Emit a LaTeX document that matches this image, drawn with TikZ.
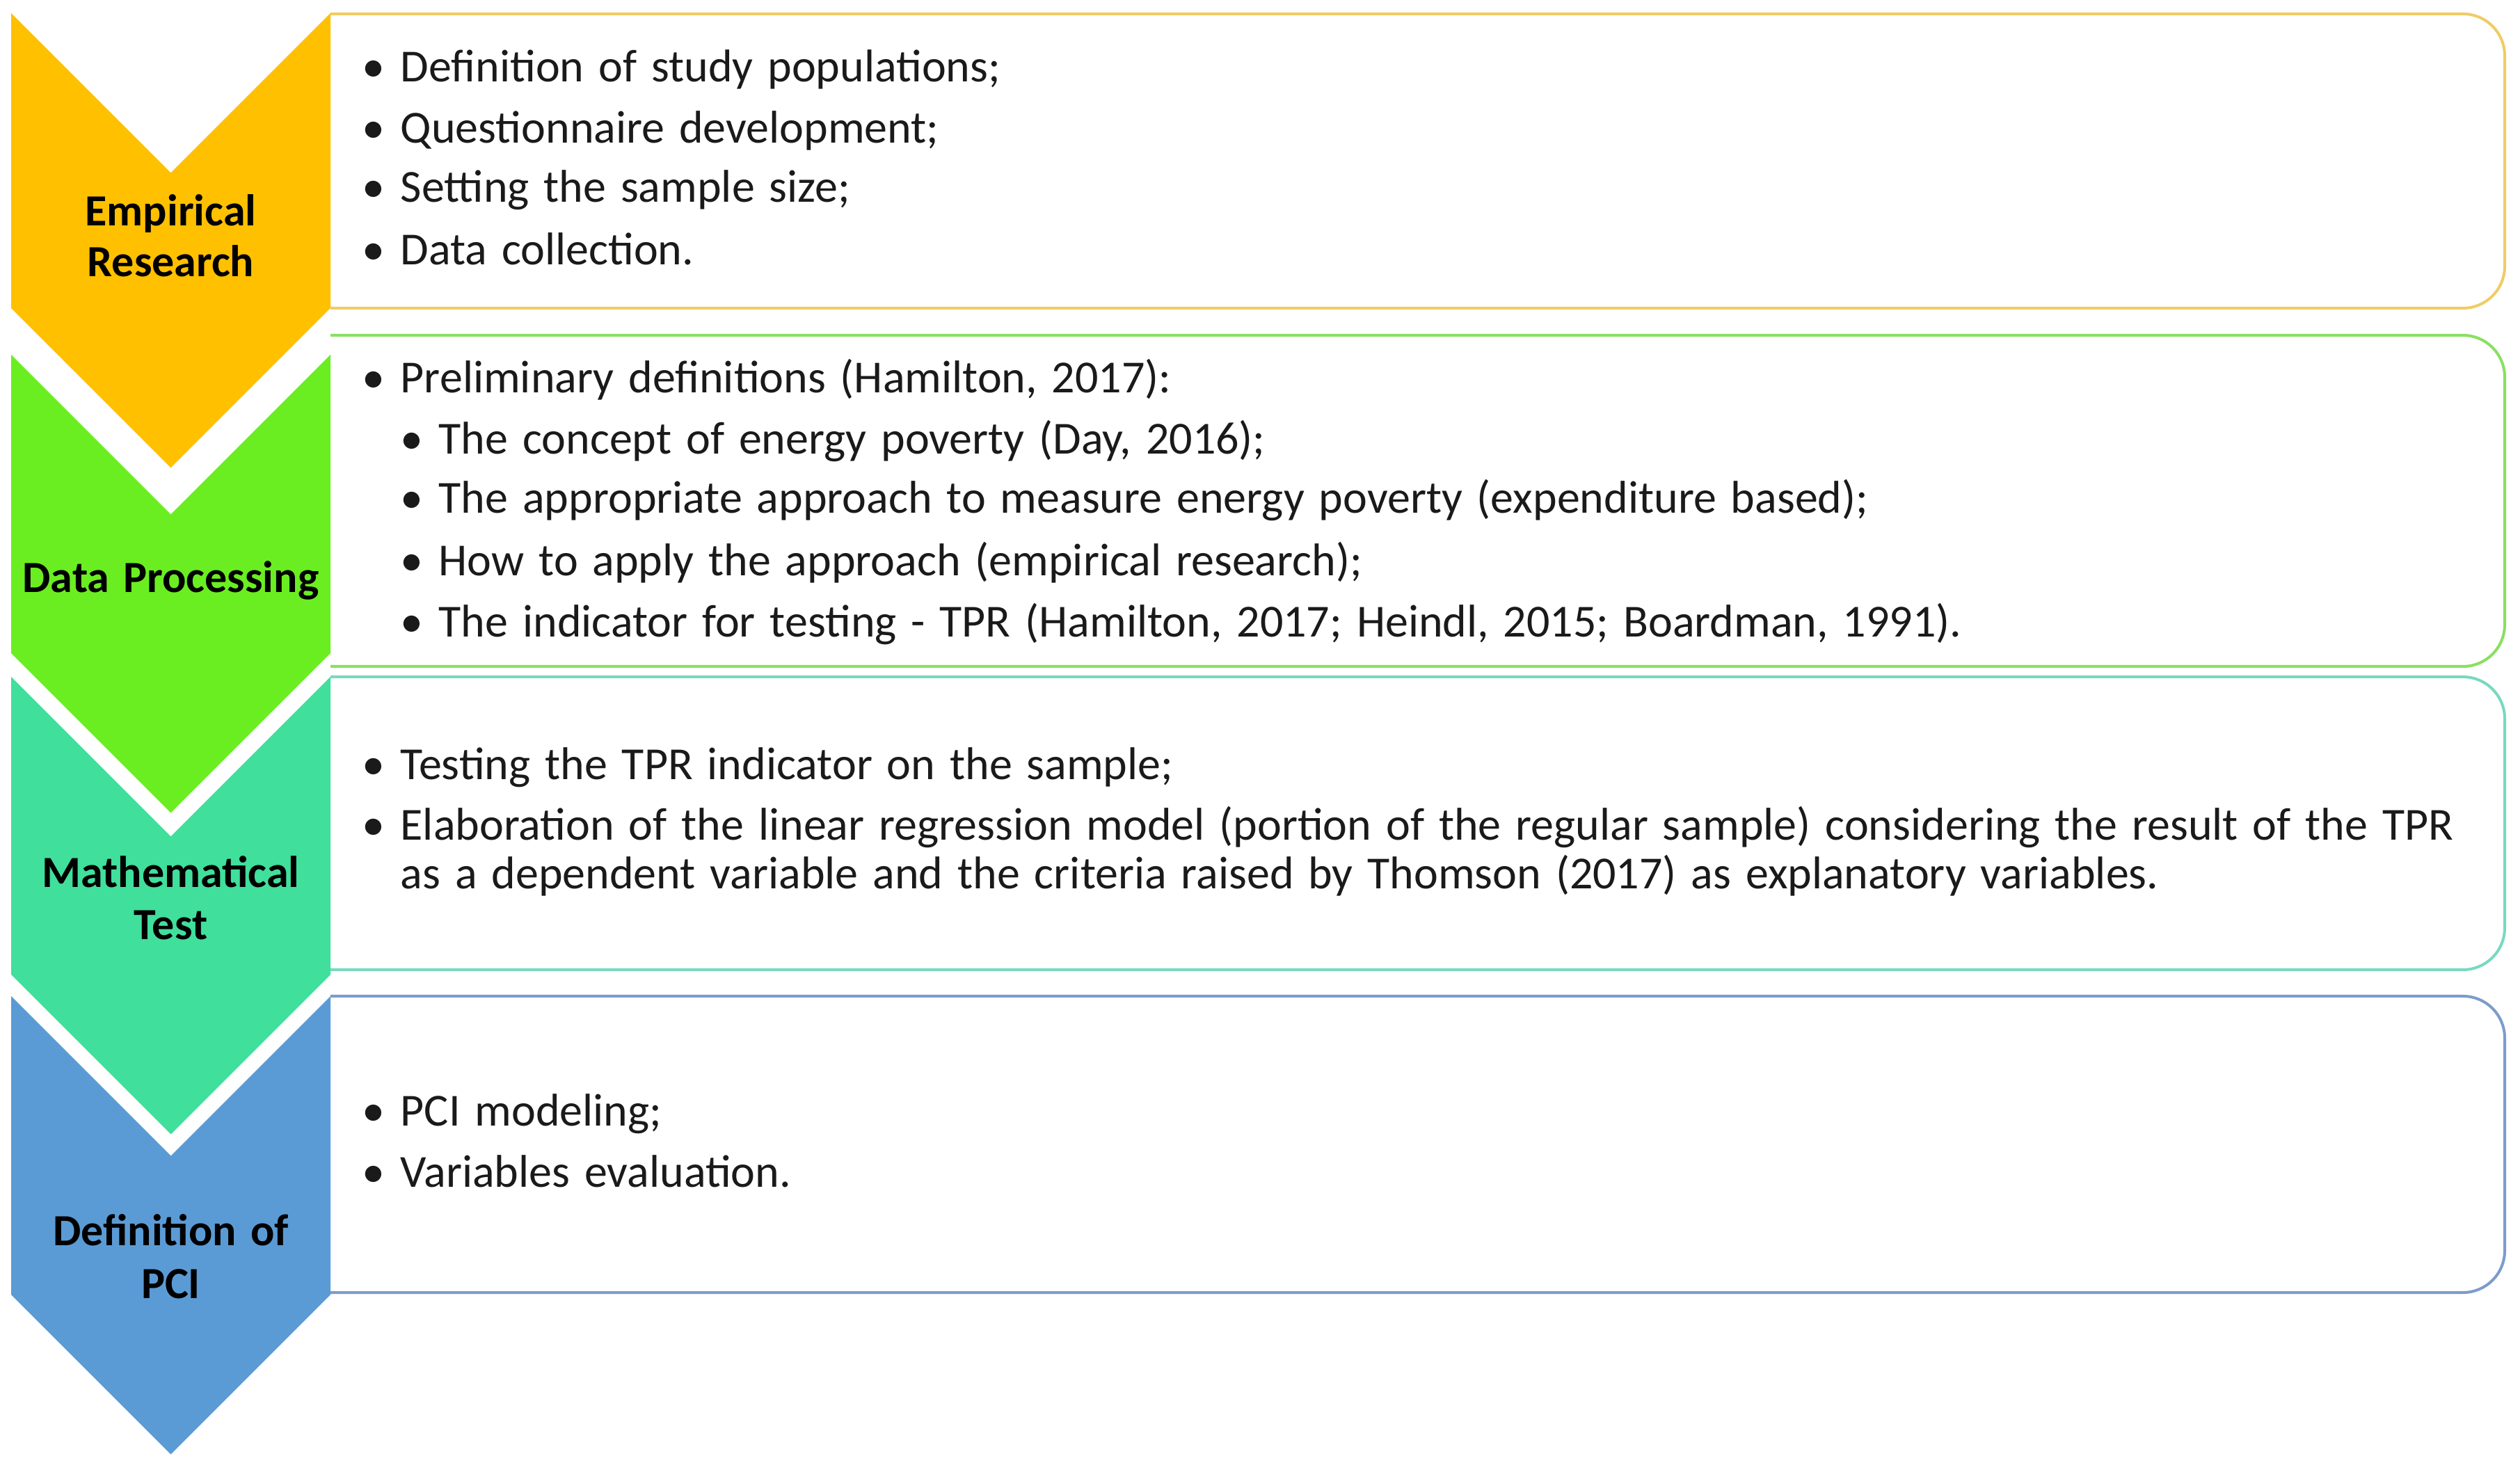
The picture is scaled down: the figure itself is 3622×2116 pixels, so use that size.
\documentclass[tikz,border=0pt]{standalone}
\usepackage{fontspec}
\setmainfont{Carlito}[WordSpace=1.4]
\definecolor{cyel}{HTML}{FFC000}
\definecolor{cgrn}{HTML}{6AEE21}
\definecolor{ctea}{HTML}{40DF9C}
\definecolor{cblu}{HTML}{5B9BD5}
\definecolor{byel}{HTML}{F0CC66}
\definecolor{bgrn}{HTML}{88E060}
\definecolor{btea}{HTML}{78D9C0}
\definecolor{bblu}{HTML}{7C9CCB}
\definecolor{txt}{HTML}{1A1A1A}
\newcommand\bl{\llap{\makebox[13.75pt][l]{\textbullet}}}
\newcommand\chevshape[3]{% colour, top y, corner y
  \fill[#1] (16,#2) -- (245.5,{#2+229.5}) -- (475,#2) -- (475,#3) -- (245.5,{#3+229.5}) -- (16,#3) -- cycle;}
\newcommand\boxshape[3]{% colour, top y, bottom y
  \draw[boxline,#1] (475,#2) -- (3540,#2) arc[start angle=90,end angle=0,radius=15pt] -- (3600,{#3-60}) arc[start angle=0,end angle=-90,radius=15pt] -- (475,#3);}
\tikzset{
  boxline/.style={line width=1pt},
  lbl/.style={font=\fontsize{16pt}{18pt}\selectfont\bfseries, anchor=base, inner sep=0pt, text=black},
  item/.style={font=\fontsize{16.5pt}{20pt}\selectfont, anchor=base west, inner sep=0pt, text=txt},
}
\begin{document}
\begin{tikzpicture}[x=0.25pt,y=-0.25pt]
\useasboundingbox (0,0) rectangle (3622,2116);
\fill[white] (0,0) rectangle (3622,2116);
% boxes
\boxshape{byel}{20}{443}
\boxshape{bgrn}{482}{958}
\boxshape{btea}{973}{1394}
\boxshape{bblu}{1432}{1858}
% chevrons
\chevshape{cyel}{19}{443}
\chevshape{cgrn}{510}{939}
\chevshape{ctea}{973}{1401}
\chevshape{cblu}{1432}{1861}
% labels
\node[lbl] (l1a) at (245.5,325) {Empirical};
\node[lbl] (l1b) at (245.5,398) {Research};
\node[lbl] (l2a) at (245.5,852) {Data Processing};
\node[lbl] (l3a) at (245.5,1276) {Mathematical};
\node[lbl] (l3b) at (245.5,1351) {Test};
\node[lbl] (l4a) at (245.5,1790) {Definition of};
\node[lbl] (l4b) at (245.5,1866) {PCI};
% box 1
\node[item] (t11) at (575,118) {\bl Definition of study populations;};
\node[item] (t12) at (575,206) {\bl Questionnaire development;};
\node[item] (t13) at (575,291) {\bl Setting the sample size;};
\node[item] (t14) at (575,381) {\bl Data collection.};
% box 2
\node[item] (t21) at (575,565) {\bl Preliminary definitions (Hamilton, 2017):};
\node[item] (t22) at (630,653) {\bl The concept of energy poverty (Day, 2016);};
\node[item] (t23) at (630,738) {\bl The appropriate approach to measure energy poverty (expenditure based);};
\node[item] (t24) at (630,828) {\bl How to apply the approach (empirical research);};
\node[item] (t25) at (630,916) {\bl The indicator for testing - TPR (Hamilton, 2017; Heindl, 2015; Boardman, 1991).};
% box 3
\node[item] (t31) at (575,1121) {\bl Testing the TPR indicator on the sample;};
\node[item] (t32) at (575,1208) {\bl Elaboration of the linear regression model (portion of the regular sample) considering the result of the TPR};
\node[item] (t33) at (575,1278) {as a dependent variable and the criteria raised by Thomson (2017) as explanatory variables.};
% box 4
\node[item] (t41) at (575,1619) {\bl PCI modeling;};
\node[item] (t42) at (575,1707) {\bl Variables evaluation.};
\end{tikzpicture}
\end{document}
